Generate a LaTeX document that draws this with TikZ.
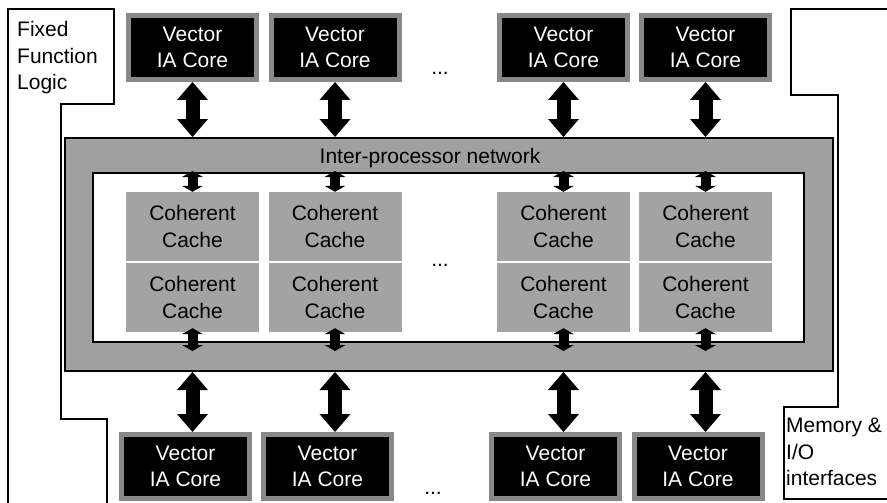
\documentclass[tikz,border=0pt]{standalone}
\usepackage{fontspec}
\setmainfont{Liberation Sans}
\usepackage{xcolor}
\usetikzlibrary{arrows.meta}
\definecolor{netgray}{HTML}{A0A0A0}
\definecolor{cachegray}{HTML}{A3A3A3}
\definecolor{rimgray}{HTML}{888888}
\tikzset{
  core/.style={fill=black,draw=rimgray,line width=5pt,text=white,align=center,inner sep=0pt,minimum width=128pt,minimum height=64pt},
  cache/.style={fill=cachegray,align=center,inner sep=0pt,minimum width=133pt,minimum height=69pt},
  bigarrow/.style={line width=14pt,{Triangle[width=31pt,length=18pt,line width=0pt]}-{Triangle[width=31pt,length=18pt,line width=0pt]}},
  smallarrow/.style={line width=10pt,{Triangle[width=21pt,length=6pt,line width=0pt]}-{Triangle[width=21pt,length=6pt,line width=0pt]}},
  outline/.style={line width=2pt},
  sidetext/.style={align=left,inner sep=0pt},
}

\begin{document}
\begin{tikzpicture}[x=1pt,y=-1pt,font=\fontsize{21}{26.5}\selectfont]
\useasboundingbox (0,0) rectangle (887,503);
% side blocks
\draw[outline] (8,503) -- (8,9) -- (114,9) -- (114,104) -- (61,104) -- (61,419) -- (107,419) -- (107,503);
\draw[outline] (887,9) -- (791,9) -- (791,95) -- (838,95) -- (838,407) -- (784,407) -- (784,499) -- (887,499);
\node[sidetext,anchor=west] (ffl) at (17,58) {Fixed\\Function\\Logic};
\node[sidetext,anchor=west] (mio) at (786,452) {Memory \&\\I/O\\interfaces};
% network
\node[draw,line width=2pt,fill=netgray,inner sep=0pt,minimum width=768pt,minimum height=233pt] (net) at (449,254.5) {};
\node (netlabel) at (430,158) {Inter-processor network};
\node[draw,line width=2pt,fill=white,inner sep=0pt,minimum width=711pt,minimum height=169pt] (inner) at (448.5,257.5) {};
% columns
\foreach \n/\x/\bx in {1/192.5/185.5,2/335/327.5,3/563.5/555.5,4/705.5/698} {
  \node[core] (top\n) at (\x,47.5) {Vector\\IA Core};
  \node[cache] (ct\n) at (\x,226.5) {Coherent\\Cache};
  \node[cache] (cb\n) at (\x,297.5) {Coherent\\Cache};
  \node[core] (bot\n) at (\bx,466.5) {Vector\\IA Core};
  \draw[bigarrow] (top\n) -- (top\n |- net.north);
  \draw[smallarrow] ([yshift=1pt]ct\n |- inner.north) -- (ct\n);
  \draw[smallarrow] ([yshift=4pt]cb\n.south) -- ([yshift=-8pt]cb\n |- inner.south);
  \draw[bigarrow] (cb\n |- net.south) -- (cb\n |- bot\n.north);
}
\node (dotsT) at (440,73) {...};
\node (dotsM) at (440,265) {...};
\node (dotsB) at (433,493) {...};
\end{tikzpicture}
\end{document}
